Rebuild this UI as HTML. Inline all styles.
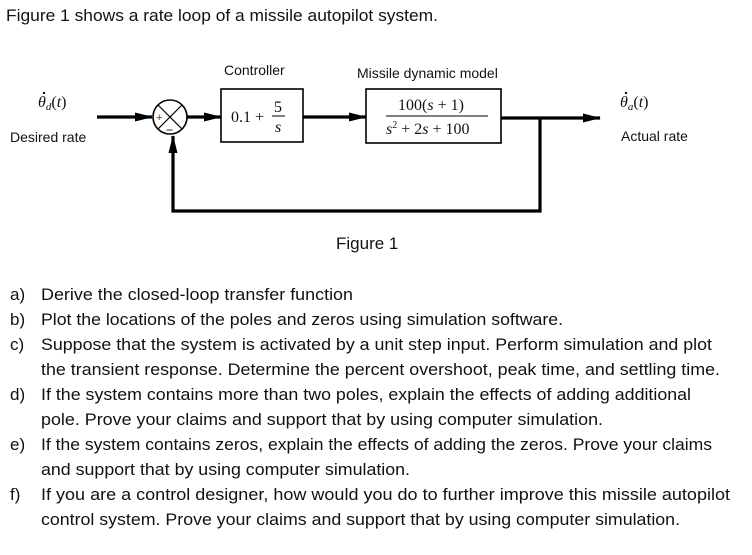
<!DOCTYPE html>
<html><head><style>body{margin:0;background:#fff}svg{display:block}</style></head><body>
<svg width="752" height="555" viewBox="0 0 752 555" xmlns="http://www.w3.org/2000/svg" font-family="Liberation Sans, sans-serif">
<defs>
<marker id="b" markerWidth="18" markerHeight="10" refX="17" refY="5" orient="auto" markerUnits="userSpaceOnUse"><path d="M0,0.5 L18,5 L0,9.5 z" fill="#000"/></marker></defs>
<g font-size="17" fill="#111">
<text x="6" y="21" textLength="432" lengthAdjust="spacingAndGlyphs">Figure 1 shows a rate loop of a missile autopilot system.</text>
</g>
<g stroke="#000" stroke-width="3.2" fill="none">
<line x1="97" y1="117" x2="152" y2="117" marker-end="url(#b)"/>
<line x1="187" y1="117" x2="221" y2="117" marker-end="url(#b)"/>
<line x1="303" y1="117" x2="366" y2="117" marker-end="url(#b)"/>
<line x1="501" y1="118" x2="600" y2="118" marker-end="url(#b)"/>
<polyline points="540,118 540,211 173,211 173,136" marker-end="url(#b)"/>
</g>
<g stroke="#000" stroke-width="1.6" fill="#fff">
<circle cx="170" cy="117" r="17"/>
<rect x="221" y="89" width="82" height="53"/>
<rect x="366" y="89" width="135" height="54"/>
</g>
<g stroke="#000" stroke-width="1.2"><line x1="158" y1="105" x2="182" y2="129"/><line x1="182" y1="105" x2="158" y2="129"/></g>
<text x="156" y="121" font-size="11" fill="#7a3b00">+</text>
<text x="166" y="134" font-size="12">−</text>
<g font-size="14" fill="#111">
<text x="224" y="75">Controller</text>
<text x="357" y="78">Missile dynamic model</text>
<text x="10" y="142">Desired rate</text>
<text x="621" y="141">Actual rate</text>
<text x="336" y="249" font-size="17">Figure 1</text>
</g>
<g font-family="Liberation Serif, serif" font-size="16" fill="#111">
<circle cx="44" cy="93" r="1.2" fill="#111"/>
<text x="38" y="107" font-style="italic">θ<tspan font-size="11" dy="3">d</tspan><tspan dy="-3" font-style="normal">(</tspan>t<tspan font-style="normal">)</tspan></text>
<circle cx="626" cy="93" r="1.2" fill="#111"/>
<text x="620" y="107" font-style="italic">θ<tspan font-size="11" dy="3">a</tspan><tspan dy="-3" font-style="normal">(</tspan>t<tspan font-style="normal">)</tspan></text>
<text x="231" y="122">0.1 +</text>
<text x="274" y="112">5</text>
<line x1="272" y1="116" x2="285" y2="116" stroke="#000" stroke-width="1"/>
<text x="275" y="132" font-style="italic">s</text>
<text x="398" y="110">100(<tspan font-style="italic">s</tspan> + 1)</text>
<line x1="386" y1="116" x2="488" y2="116" stroke="#000" stroke-width="1"/>
<text x="386" y="134"><tspan font-style="italic">s</tspan><tspan font-size="10" dy="-6">2</tspan><tspan dy="6"> + 2</tspan><tspan font-style="italic">s</tspan> + 100</text>
</g>
<g font-size="17" fill="#111">
<text x="10" y="300">a)</text><text x="41" y="300" textLength="312" lengthAdjust="spacingAndGlyphs">Derive the closed-loop transfer function</text>
<text x="10" y="325">b)</text><text x="41" y="325" textLength="522" lengthAdjust="spacingAndGlyphs">Plot the locations of the poles and zeros using simulation software.</text>
<text x="10" y="350">c)</text><text x="41" y="350" textLength="671" lengthAdjust="spacingAndGlyphs">Suppose that the system is activated by a unit step input. Perform simulation and plot</text>
<text x="41" y="375" textLength="679" lengthAdjust="spacingAndGlyphs">the transient response. Determine the percent overshoot, peak time, and settling time.</text>
<text x="10" y="400">d)</text><text x="41" y="400" textLength="650" lengthAdjust="spacingAndGlyphs">If the system contains more than two poles, explain the effects of adding additional</text>
<text x="41" y="425" textLength="562" lengthAdjust="spacingAndGlyphs">pole. Prove your claims and support that by using computer simulation.</text>
<text x="10" y="450">e)</text><text x="41" y="450" textLength="671" lengthAdjust="spacingAndGlyphs">If the system contains zeros, explain the effects of adding the zeros. Prove your claims</text>
<text x="41" y="475" textLength="369" lengthAdjust="spacingAndGlyphs">and support that by using computer simulation.</text>
<text x="10" y="500">f)</text><text x="41" y="500" textLength="689" lengthAdjust="spacingAndGlyphs">If you are a control designer, how would you do to further improve this missile autopilot</text>
<text x="41" y="525" textLength="639" lengthAdjust="spacingAndGlyphs">control system. Prove your claims and support that by using computer simulation.</text>
</g>
</svg>
</body></html>
